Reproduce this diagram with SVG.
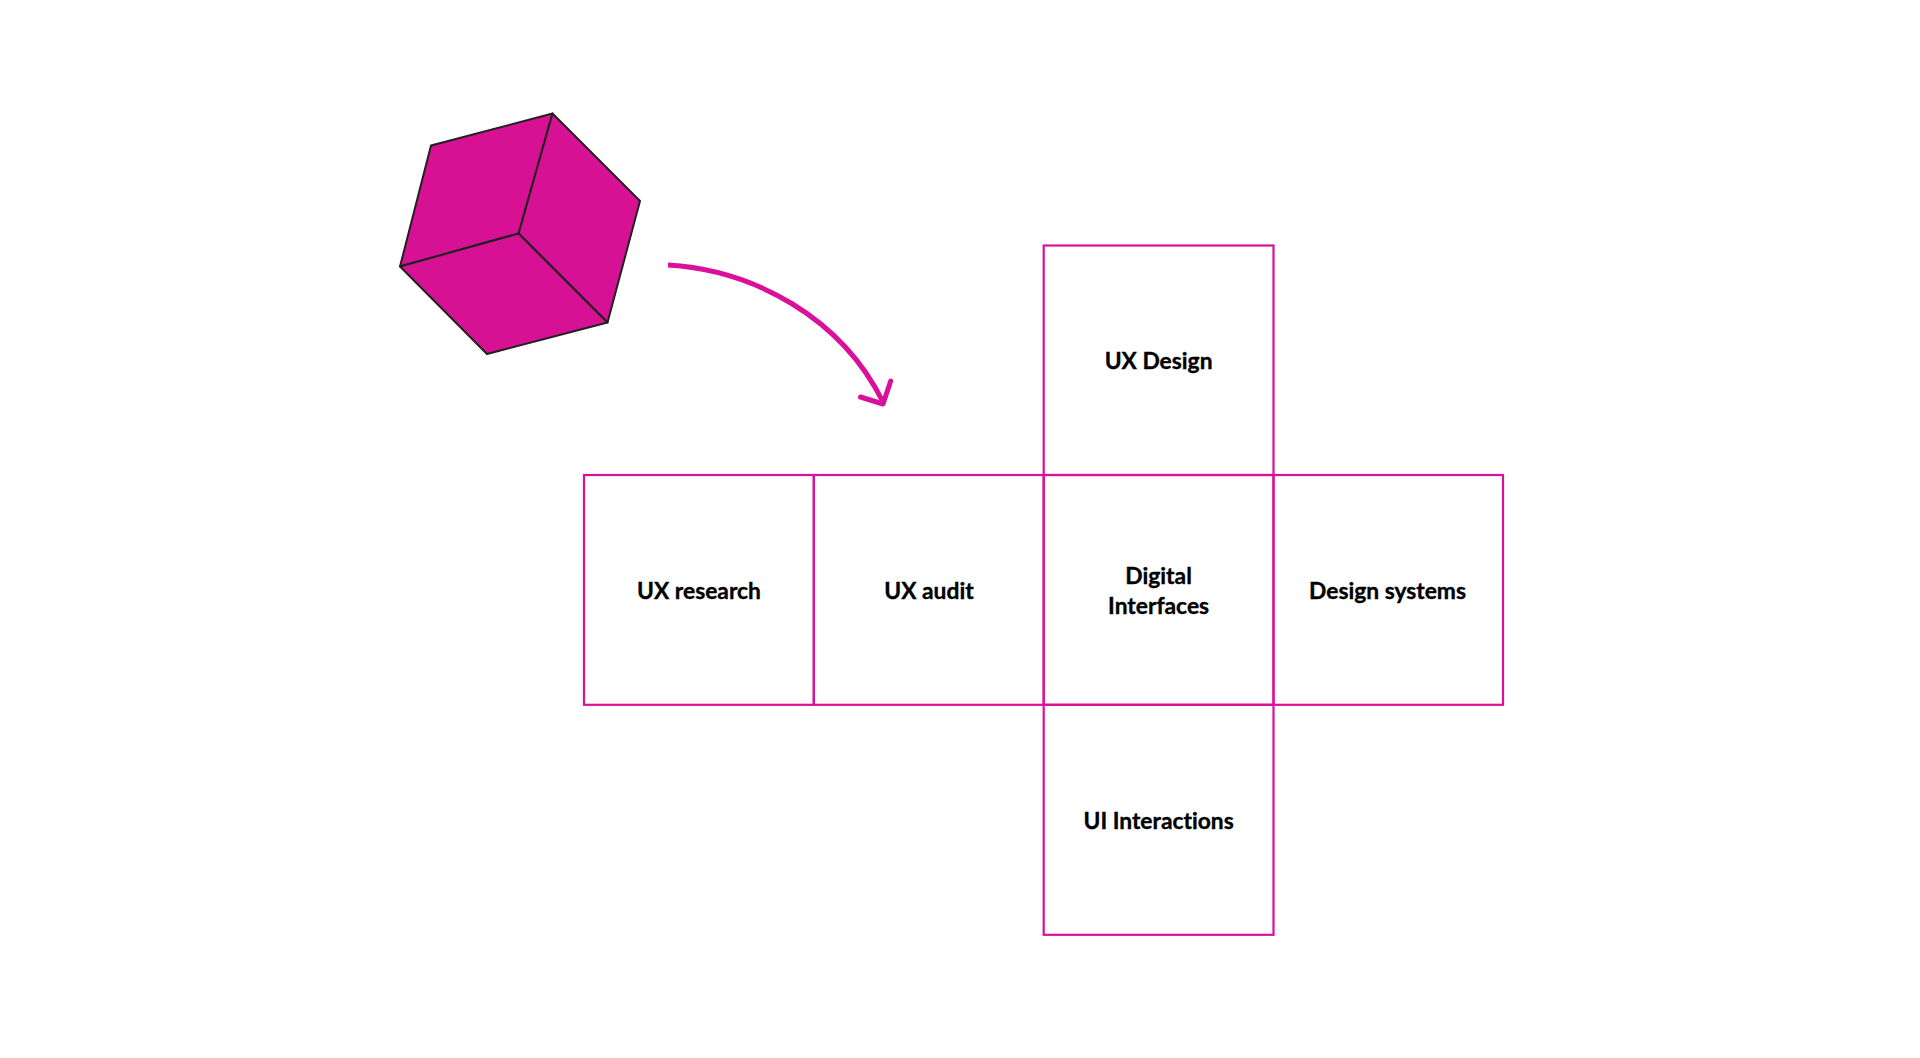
<svg xmlns="http://www.w3.org/2000/svg" width="1920" height="1058" viewBox="0 0 1920 1058">
<style>
.cell{fill:none;stroke:#d9119a;stroke-width:2.2}
.lbl{font-family:"Lato","Noto Sans",sans-serif;font-weight:700;font-size:22.8px;fill:#000;stroke:#000;stroke-width:.35;text-anchor:middle;font-variant-ligatures:none}
.face{fill:#d61194;stroke:#231f20;stroke-width:2;stroke-linejoin:round}
.arr{fill:none;stroke:#d9119a;stroke-width:5}
</style>
<rect width="1920" height="1058" fill="#fff"/>
<g id="cube">
<polygon class="face" points="552.5,113.5 431,145.5 400,266.5 518.6,233.5"/>
<polygon class="face" points="552.5,113.5 640,201 607.5,322.5 518.6,233.5"/>
<polygon class="face" points="400,266.5 518.6,233.5 607.5,322.5 487,354"/>
</g>
<g id="connectors">
<path class="arr" d="M668 265 C753 270 841 317 883 402"/>
<path class="arr" stroke-linecap="round" stroke-linejoin="round" d="M890.7 381 L883 404 L860.5 397"/>
</g>
<g id="node-ux-design"><rect class="cell" x="1043.7" y="245.5" width="229.8" height="229.5"/><text class="lbl" x="1158.6" y="369">UX Design</text></g>
<g id="node-ux-research"><rect class="cell" x="584" y="475" width="229.8" height="229.8"/><text class="lbl" x="699" y="599">UX research</text></g>
<g id="node-ux-audit"><rect class="cell" x="813.8" y="475" width="229.9" height="229.8"/><text class="lbl" x="929" y="599">UX audit</text></g>
<g id="node-digital-interfaces"><rect class="cell" x="1043.7" y="475" width="229.8" height="229.8"/><text class="lbl" x="1158.6" y="583.5">Digital</text><text class="lbl" x="1158.6" y="614">Interfaces</text></g>
<g id="node-design-systems"><rect class="cell" x="1273.5" y="475" width="229.5" height="229.8"/><text class="lbl" x="1387.5" y="599">Design systems</text></g>
<g id="node-ui-interactions"><rect class="cell" x="1043.7" y="704.8" width="229.8" height="230"/><text class="lbl" x="1158.6" y="828.5">UI Interactions</text></g>
</svg>
